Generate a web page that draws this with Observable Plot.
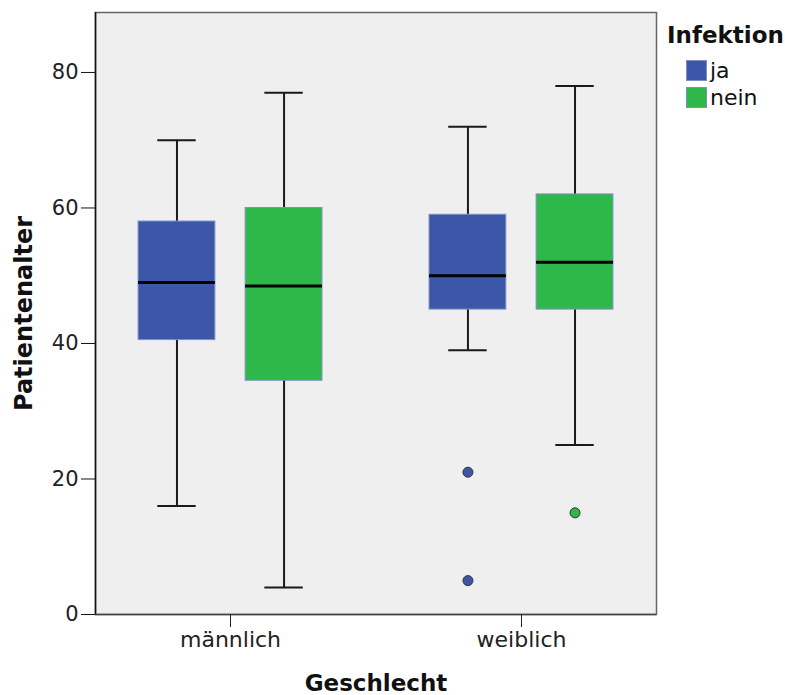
<!DOCTYPE html>
<html>
<head>
<meta charset="utf-8">
<script src="https://cdn.jsdelivr.net/npm/d3@7"></script>
<script src="https://cdn.jsdelivr.net/npm/@observablehq/plot@0.6"></script>
<style>
  html, body { margin: 0; padding: 0; background: #fff; }
  #wrap { position: relative; width: 785px; height: 695px; font-family: "DejaVu Sans", sans-serif; }
  #legend { position: absolute; left: 667px; top: 21px; color: #111; }
  #legend .title { font-weight: bold; font-size: 23px; line-height: 28px; margin-bottom: 8px; }
  #legend .item { display: flex; align-items: center; height: 27px; margin-left: 19px; font-size: 22px; }
  #legend .sw { width: 21px; height: 21px; margin-right: 3px; box-sizing: border-box; border: 1px solid #7f8fc4; }
</style>
</head>
<body>
<div id="wrap"><div id="chart"></div><div id="legend"></div></div>
<script>
// Categories
const geschlecht = ["männlich", "weiblich"];
const infektion = ["ja", "nein"];
const colors = ["#3d57a8", "#2eb84a"];

// Box statistics per group (Geschlecht, Infektion)
const groupSex  = ["männlich", "männlich", "weiblich", "weiblich"];
const groupInf  = ["ja", "nein", "ja", "nein"];
const whiskLow  = [16, 4, 39, 25];
const q1        = [40.5, 34.5, 45, 45];
const median    = [49, 48.5, 50, 52];
const q3        = [58, 60, 59, 62];
const whiskHigh = [70, 77, 72, 78];

// Outliers
const outSex = ["weiblich", "weiblich", "weiblich"];
const outInf = ["ja", "ja", "nein"];
const outVal = [21, 5, 15];

// Axis ticks
const yTicks = [0, 20, 40, 60, 80];

const offset = 0.184;   // half distance between ja/nein boxes (x units)
const boxHalf = 0.132;  // half box width
const capHalf = 0.066;  // half whisker cap width
const pos = (s, i) => geschlecht.indexOf(s) + (infektion.indexOf(i) === 0 ? -offset : offset);

const boxes = groupSex.map((s, k) => ({
  sex: s, inf: groupInf[k], x: pos(s, groupInf[k]),
  lo: whiskLow[k], q1: q1[k], med: median[k], q3: q3[k], hi: whiskHigh[k]
}));
const outliers = outSex.map((s, k) => ({ sex: s, inf: outInf[k], x: pos(s, outInf[k]), v: outVal[k] }));

const font = "DejaVu Sans, sans-serif";

const chart = Plot.plot({
  width: 785,
  height: 695,
  marginLeft: 95,
  marginRight: 129,
  marginTop: 12,
  marginBottom: 81,
  style: { fontFamily: font, fontSize: "21px", color: "#222", background: "#fff" },
  x: { type: "linear", domain: [-0.464, 1.464], axis: null },
  y: { domain: [0, 88.85], axis: null },
  color: { domain: infektion, range: colors },
  marks: [
    Plot.frame({ fill: "#efefef", stroke: "#666", strokeWidth: 1.5 }),
    Plot.ruleX([-0.464], { stroke: "#111", strokeWidth: 1.5 }),
    Plot.ruleY([0], { stroke: "#444", strokeWidth: 1.5 }),
    Plot.axisY({ ticks: yTicks, tickSize: 14, tickPadding: 3, fontSize: 21, label: null, stroke: "#111" }),
    Plot.axisX({ ticks: [0, 1], tickFormat: (d) => geschlecht[d], tickSize: 13, tickPadding: 4, fontSize: 22, label: null, stroke: "#222" }),
    // whiskers
    Plot.ruleX(boxes, { x: "x", y1: "lo", y2: "hi", stroke: "#1a1a1a", strokeWidth: 2 }),
    Plot.ruleY(boxes, { y: "lo", x1: (d) => d.x - capHalf, x2: (d) => d.x + capHalf, stroke: "#1a1a1a", strokeWidth: 2 }),
    Plot.ruleY(boxes, { y: "hi", x1: (d) => d.x - capHalf, x2: (d) => d.x + capHalf, stroke: "#1a1a1a", strokeWidth: 2 }),
    // boxes
    Plot.rect(boxes, { x1: (d) => d.x - boxHalf, x2: (d) => d.x + boxHalf, y1: "q1", y2: "q3", fill: "inf", stroke: "#8090c6", strokeWidth: 1 }),
    // medians
    Plot.ruleY(boxes, { y: "med", x1: (d) => d.x - boxHalf, x2: (d) => d.x + boxHalf, stroke: "#000", strokeWidth: 3 }),
    // outliers
    Plot.dot(outliers, { x: "x", y: "v", fill: "inf", stroke: "#333", strokeWidth: 1, r: 5 }),
    // axis titles
    Plot.text(["Patientenalter"], { frameAnchor: "left", textAnchor: "middle", dx: -71, rotate: -90, fontWeight: "bold", fontSize: 24, fill: "#111" }),
    Plot.text(["Geschlecht"], { frameAnchor: "bottom", textAnchor: "middle", dy: 69, lineAnchor: "middle", fontWeight: "bold", fontSize: 23, fill: "#111" })
  ]
});
document.getElementById("chart").appendChild(chart);

// Legend
const legend = document.getElementById("legend");
const t = document.createElement("div");
t.className = "title";
t.textContent = "Infektion";
legend.appendChild(t);
infektion.forEach((name, i) => {
  const row = document.createElement("div");
  row.className = "item";
  const sw = document.createElement("span");
  sw.className = "sw";
  sw.style.background = colors[i];
  const lab = document.createElement("span");
  lab.textContent = name;
  row.appendChild(sw);
  row.appendChild(lab);
  legend.appendChild(row);
});
</script>
</body>
</html>
